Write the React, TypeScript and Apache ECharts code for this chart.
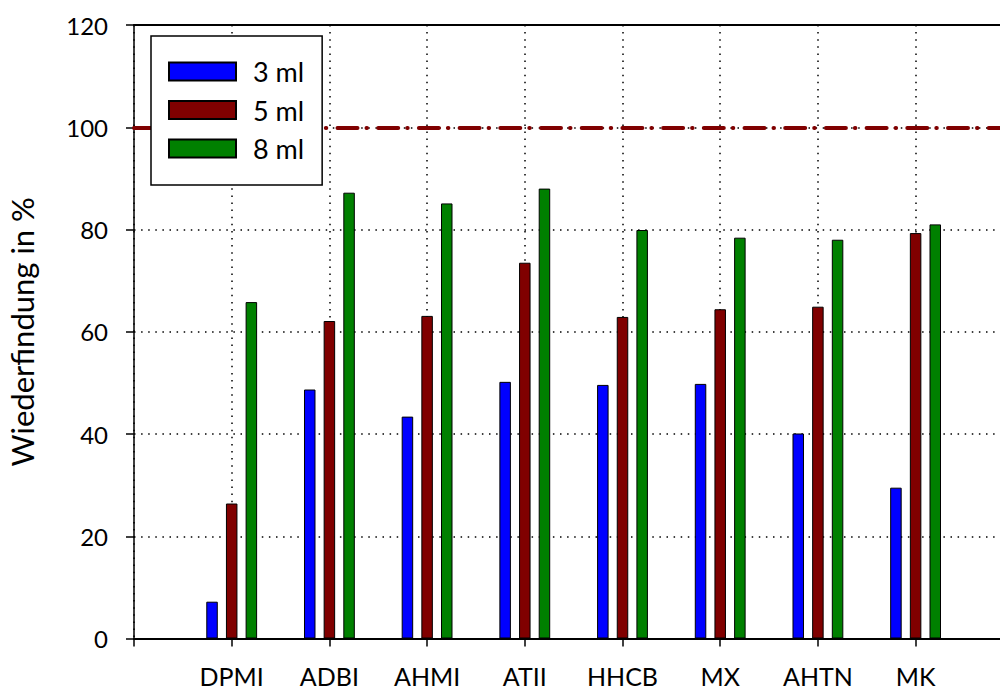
import React, { useEffect, useRef } from "react";
import * as echarts from "echarts";

// Recovery per substance for three sample volumes
const substances = ["DPMI", "ADBI", "AHMI", "ATII", "HHCB", "MX", "AHTN", "MK"];
const vol3ml = [7.2, 48.7, 43.4, 50.2, 49.6, 49.8, 40.1, 29.5];
const vol5ml = [26.4, 62.1, 63.1, 73.5, 62.9, 64.4, 64.9, 79.3];
const vol8ml = [65.8, 87.2, 85.1, 88.0, 79.9, 78.4, 78.0, 81.0];
const yTicks = { min: 0, max: 120, step: 20 };
const targetRecovery = 100;

const FONT = "Lato, 'Open Sans', sans-serif";

// empty slots at both ends leave room before the first and after the last group
const categories = ["", ...substances, ""];
const pad = (v: number[]) => [null, ...v, null];

export default function App() {
  const ref = useRef<HTMLDivElement>(null);

  useEffect(() => {
    if (!ref.current) return;
    const chart = echarts.init(ref.current, undefined, { renderer: "svg" });

    const barStyle = (color: string) => ({
      color,
      borderColor: "#000",
      borderWidth: 1,
    });

    chart.setOption({
      animation: false,
      backgroundColor: "#fff",
      textStyle: { fontFamily: FONT, color: "#000" },
      grid: {
        left: 134,
        top: 25,
        bottom: 51.5,
        right: -13.3,
        containLabel: false,
        outerBoundsMode: "none",
      },
      legend: {
        data: ["3 ml", "5 ml", "8 ml"],
        orient: "vertical",
        left: 151,
        top: 36,
        padding: [22, 18, 23, 17],
        itemWidth: 67,
        itemHeight: 18,
        itemGap: 11.5,
        icon: "rect",
        borderColor: "#000",
        borderWidth: 1.5,
        backgroundColor: "#fff",
        formatter: (name: string) => `{gap|}${name}`,
        textStyle: {
          fontSize: 27,
          fontFamily: FONT,
          color: "#000",
          rich: { gap: { width: 12 } },
        },
      },
      xAxis: [
        {
          type: "category",
          data: categories,
          boundaryGap: false,
          axisLine: { lineStyle: { color: "#000", width: 2 } },
          axisTick: { show: true, inside: false, length: 8, lineStyle: { color: "#000", width: 1.5 } },
          axisLabel: { fontSize: 25, color: "#000", fontFamily: FONT, margin: 25, interval: 0 },
          splitLine: { show: true, lineStyle: { color: "#000", width: 1.5, type: [1.5, 5.6] } },
        },
        {
          type: "category",
          data: categories,
          boundaryGap: false,
          position: "top",
          axisLine: { lineStyle: { color: "#000", width: 2 } },
          axisTick: { show: false },
          axisLabel: { show: false },
          splitLine: { show: false },
        },
      ],
      yAxis: {
        type: "value",
        min: yTicks.min,
        max: yTicks.max,
        interval: yTicks.step,
        name: "Wiederfindung in %",
        nameLocation: "middle",
        nameGap: 97,
        nameTextStyle: { fontSize: 31, fontFamily: FONT, color: "#000" },
        axisLine: { show: true, lineStyle: { color: "#000", width: 1.5 } },
        axisTick: { show: true, inside: false, length: 8, lineStyle: { color: "#000", width: 1.5 } },
        axisLabel: { fontSize: 24, color: "#000", fontFamily: FONT, margin: 26 },
        splitLine: { show: true, lineStyle: { color: "#000", width: 1.5, type: [1.5, 5.6] } },
      },
      series: [
        {
          name: "3 ml",
          type: "bar",
          data: pad(vol3ml),
          barWidth: 11.5,
          barGap: "71%",
          itemStyle: barStyle("#0000ff"),
          markLine: {
            silent: true,
            symbol: ["none", "none"],
            label: { show: false },
            lineStyle: { color: "#800000", width: 4, type: [20, 9, 0.5, 11.2], cap: "round" },
            data: [{ yAxis: targetRecovery }],
            z: 3,
          },
        },
        { name: "5 ml", type: "bar", data: pad(vol5ml), barWidth: 11.5, barGap: "71%", itemStyle: barStyle("#800000") },
        { name: "8 ml", type: "bar", data: pad(vol8ml), barWidth: 11.5, barGap: "71%", itemStyle: barStyle("#008000") },
      ],
    });

    return () => chart.dispose();
  }, []);

  return (
    <div
      ref={ref}
      style={{ position: "fixed", left: 0, top: 0, width: 1000, height: 690, background: "#fff" }}
    />
  );
}
